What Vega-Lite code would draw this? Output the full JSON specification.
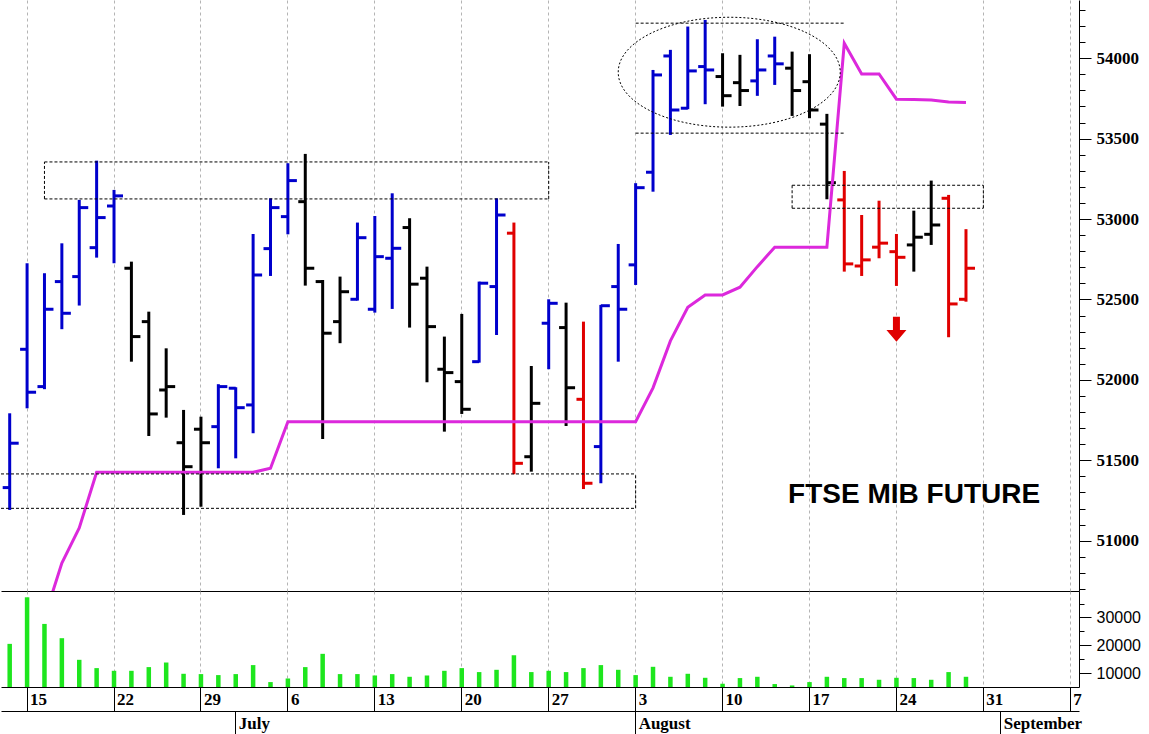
{
  "$schema": "https://vega.github.io/schema/vega-lite/v6.json",
  "background": "white",
  "padding": 0,
  "bounds": "flush",
  "config": {
    "view": {"stroke": null},
    "axis": {"labelOverlap": false, "labelFlush": false}
  },
  "datasets": {
    "ohlc": [
      {"d": "2015-06-12", "o": 51330, "h": 51792, "l": 51191, "c": 51606, "s": "buy", "vol": 20500, "stop": null},
      {"d": "2015-06-15", "o": 52190, "h": 52725, "l": 51823, "c": 51923, "s": "buy", "vol": 37240, "stop": null},
      {"d": "2015-06-16", "o": 51958, "h": 52663, "l": 51942, "c": 52439, "s": "buy", "vol": 27670, "stop": 50520},
      {"d": "2015-06-17", "o": 52611, "h": 52849, "l": 52315, "c": 52414, "s": "buy", "vol": 22540, "stop": 50861},
      {"d": "2015-06-18", "o": 52642, "h": 53119, "l": 52462, "c": 53071, "s": "buy", "vol": 14770, "stop": 51079},
      {"d": "2015-06-19", "o": 52822, "h": 53363, "l": 52760, "c": 53009, "s": "buy", "vol": 11790, "stop": 51425},
      {"d": "2015-06-22", "o": 53081, "h": 53181, "l": 52725, "c": 53144, "s": "buy", "vol": 10820, "stop": 51425},
      {"d": "2015-06-23", "o": 52694, "h": 52735, "l": 52113, "c": 52269, "s": "hold", "vol": 10820, "stop": 51425},
      {"d": "2015-06-24", "o": 52362, "h": 52424, "l": 51651, "c": 51788, "s": "hold", "vol": 12150, "stop": 51425},
      {"d": "2015-06-25", "o": 51937, "h": 52196, "l": 51765, "c": 51958, "s": "hold", "vol": 13800, "stop": 51425},
      {"d": "2015-06-26", "o": 51609, "h": 51813, "l": 51160, "c": 51460, "s": "hold", "vol": 9750, "stop": 51425},
      {"d": "2015-06-29", "o": 51693, "h": 51771, "l": 51211, "c": 51609, "s": "hold", "vol": 9640, "stop": 51425},
      {"d": "2015-06-30", "o": 51709, "h": 51973, "l": 51450, "c": 51958, "s": "buy", "vol": 9280, "stop": 51425},
      {"d": "2015-07-01", "o": 51948, "h": 51954, "l": 51512, "c": 51827, "s": "buy", "vol": 9640, "stop": 51425},
      {"d": "2015-07-02", "o": 51844, "h": 52907, "l": 51668, "c": 52652, "s": "buy", "vol": 12870, "stop": 51425},
      {"d": "2015-07-03", "o": 52816, "h": 53129, "l": 52646, "c": 53071, "s": "buy", "vol": 6770, "stop": 51450},
      {"d": "2015-07-06", "o": 53015, "h": 53347, "l": 52905, "c": 53239, "s": "buy", "vol": 8060, "stop": 51740},
      {"d": "2015-07-07", "o": 53108, "h": 53405, "l": 52586, "c": 52694, "s": "hold", "vol": 12150, "stop": 51740},
      {"d": "2015-07-08", "o": 52611, "h": 52621, "l": 51632, "c": 52290, "s": "hold", "vol": 16920, "stop": 51740},
      {"d": "2015-07-09", "o": 52362, "h": 52642, "l": 52228, "c": 52548, "s": "hold", "vol": 9640, "stop": 51740},
      {"d": "2015-07-10", "o": 52501, "h": 52978, "l": 52493, "c": 52884, "s": "buy", "vol": 9640, "stop": 51740},
      {"d": "2015-07-13", "o": 52439, "h": 53019, "l": 52418, "c": 52766, "s": "buy", "vol": 9140, "stop": 51740},
      {"d": "2015-07-14", "o": 52756, "h": 53160, "l": 52441, "c": 52818, "s": "buy", "vol": 9640, "stop": 51740},
      {"d": "2015-07-15", "o": 52947, "h": 53005, "l": 52325, "c": 52595, "s": "hold", "vol": 8670, "stop": 51740},
      {"d": "2015-07-16", "o": 52632, "h": 52704, "l": 51985, "c": 52331, "s": "hold", "vol": 9140, "stop": 51740},
      {"d": "2015-07-17", "o": 52066, "h": 52269, "l": 51678, "c": 52045, "s": "hold", "vol": 10820, "stop": 51740},
      {"d": "2015-07-20", "o": 51989, "h": 52410, "l": 51788, "c": 51817, "s": "hold", "vol": 11790, "stop": 51740},
      {"d": "2015-07-21", "o": 52113, "h": 52611, "l": 52107, "c": 52601, "s": "buy", "vol": 10360, "stop": 51740},
      {"d": "2015-07-22", "o": 52580, "h": 53129, "l": 52279, "c": 53025, "s": "buy", "vol": 11180, "stop": 51740},
      {"d": "2015-07-23", "o": 52912, "h": 52978, "l": 51413, "c": 51481, "s": "sell", "vol": 16450, "stop": 51740},
      {"d": "2015-07-24", "o": 51522, "h": 52086, "l": 51429, "c": 51854, "s": "hold", "vol": 10360, "stop": 51740},
      {"d": "2015-07-27", "o": 52352, "h": 52501, "l": 52066, "c": 52476, "s": "buy", "vol": 10820, "stop": 51740},
      {"d": "2015-07-28", "o": 52325, "h": 52480, "l": 51713, "c": 51951, "s": "hold", "vol": 10360, "stop": 51740},
      {"d": "2015-07-29", "o": 51879, "h": 52362, "l": 51321, "c": 51357, "s": "sell", "vol": 11790, "stop": 51740},
      {"d": "2015-07-30", "o": 51585, "h": 52466, "l": 51357, "c": 52461, "s": "buy", "vol": 12870, "stop": 51740},
      {"d": "2015-07-31", "o": 52580, "h": 52845, "l": 52113, "c": 52439, "s": "buy", "vol": 11180, "stop": 51740},
      {"d": "2015-08-03", "o": 52715, "h": 53223, "l": 52590, "c": 53195, "s": "buy", "vol": 9280, "stop": 51740},
      {"d": "2015-08-04", "o": 53291, "h": 53927, "l": 53170, "c": 53896, "s": "buy", "vol": 12260, "stop": 51950},
      {"d": "2015-08-05", "o": 54014, "h": 54052, "l": 53523, "c": 53678, "s": "buy", "vol": 8670, "stop": 52242},
      {"d": "2015-08-06", "o": 53689, "h": 54197, "l": 53683, "c": 53921, "s": "buy", "vol": 9750, "stop": 52451},
      {"d": "2015-08-07", "o": 53948, "h": 54238, "l": 53714, "c": 53927, "s": "buy", "vol": 8310, "stop": 52528},
      {"d": "2015-08-10", "o": 53886, "h": 54031, "l": 53699, "c": 53767, "s": "hold", "vol": 6170, "stop": 52528},
      {"d": "2015-08-11", "o": 53848, "h": 54021, "l": 53703, "c": 53799, "s": "hold", "vol": 8210, "stop": 52576},
      {"d": "2015-08-12", "o": 53859, "h": 54118, "l": 53766, "c": 53927, "s": "buy", "vol": 8670, "stop": 52704},
      {"d": "2015-08-13", "o": 54014, "h": 54134, "l": 53834, "c": 53965, "s": "buy", "vol": 6060, "stop": 52825},
      {"d": "2015-08-14", "o": 53938, "h": 54041, "l": 53641, "c": 53799, "s": "hold", "vol": 5560, "stop": 52825},
      {"d": "2015-08-17", "o": 53854, "h": 54025, "l": 53627, "c": 53678, "s": "hold", "vol": 6770, "stop": 52825},
      {"d": "2015-08-18", "o": 53590, "h": 53654, "l": 53123, "c": 53226, "s": "hold", "vol": 8670, "stop": 52825},
      {"d": "2015-08-19", "o": 53119, "h": 53299, "l": 52673, "c": 52721, "s": "sell", "vol": 8210, "stop": 54093},
      {"d": "2015-08-20", "o": 52708, "h": 53025, "l": 52646, "c": 52746, "s": "sell", "vol": 8210, "stop": 53902},
      {"d": "2015-08-21", "o": 52825, "h": 53114, "l": 52756, "c": 52850, "s": "sell", "vol": 7600, "stop": 53902},
      {"d": "2015-08-24", "o": 52797, "h": 52907, "l": 52584, "c": 52762, "s": "sell", "vol": 8310, "stop": 53745},
      {"d": "2015-08-25", "o": 52839, "h": 53052, "l": 52673, "c": 52887, "s": "hold", "vol": 8210, "stop": 53743},
      {"d": "2015-08-26", "o": 52905, "h": 53239, "l": 52839, "c": 52963, "s": "hold", "vol": 7600, "stop": 53740},
      {"d": "2015-08-27", "o": 53129, "h": 53150, "l": 52265, "c": 52472, "s": "sell", "vol": 10360, "stop": 53728},
      {"d": "2015-08-28", "o": 52501, "h": 52937, "l": 52486, "c": 52694, "s": "sell", "vol": 8670, "stop": 53724}
    ],
    "hlines": [
      {"d": "2015-06-16", "d2": "2015-07-27", "v": 53355},
      {"d": "2015-06-16", "d2": "2015-07-27", "v": 53125},
      {"d": "2015-08-14", "d2": "2015-08-31", "v": 53210},
      {"d": "2015-08-14", "d2": "2015-08-31", "v": 53067},
      {"d": "2015-08-03", "d2": "2015-08-19", "v": 54218},
      {"d": "2015-08-03", "d2": "2015-08-19", "v": 53534}
    ],
    "edgelines": [
      {"d": "2015-06-12", "d2": "2015-08-03", "v": 51415},
      {"d": "2015-06-12", "d2": "2015-08-03", "v": 51201}
    ],
    "vlines": [
      {"d": "2015-06-16", "v": 53125, "v2": 53355},
      {"d": "2015-07-27", "v": 53125, "v2": 53355},
      {"d": "2015-08-14", "v": 53067, "v2": 53210},
      {"d": "2015-08-31", "v": 53067, "v2": 53210},
      {"d": "2015-08-03", "v": 51201, "v2": 51415}
    ],
    "notes": [
      {"d": "2015-08-10", "v": 53913, "kind": "ellipse"},
      {"d": "2015-08-24", "v": 52315, "kind": "arrow"},
      {"d": "2015-08-14", "v": 51233, "kind": "label", "text": "FTSE MIB FUTURE"}
    ]
  },
  "spacing": 0,
  "resolve": {"scale": {"x": "independent", "y": "independent"}},
  "vconcat": [
    {
      "width": 1078,
      "height": 591,
      "data": {"name": "ohlc"},
      "resolve": {"axis": {"y": "independent"}},
      "encoding": {
        "x": {
          "field": "d",
          "type": "ordinal",
          "title": null,
          "scale": {
            "type": "band",
            "paddingInner": 0,
            "paddingOuter": 0,
            "domain": ["2015-06-12","2015-06-15","2015-06-16","2015-06-17","2015-06-18","2015-06-19","2015-06-22","2015-06-23","2015-06-24","2015-06-25","2015-06-26","2015-06-29","2015-06-30","2015-07-01","2015-07-02","2015-07-03","2015-07-06","2015-07-07","2015-07-08","2015-07-09","2015-07-10","2015-07-13","2015-07-14","2015-07-15","2015-07-16","2015-07-17","2015-07-20","2015-07-21","2015-07-22","2015-07-23","2015-07-24","2015-07-27","2015-07-28","2015-07-29","2015-07-30","2015-07-31","2015-08-03","2015-08-04","2015-08-05","2015-08-06","2015-08-07","2015-08-10","2015-08-11","2015-08-12","2015-08-13","2015-08-14","2015-08-17","2015-08-18","2015-08-19","2015-08-20","2015-08-21","2015-08-24","2015-08-25","2015-08-26","2015-08-27","2015-08-28","2015-08-31","2015-09-01","2015-09-02","2015-09-03","2015-09-04","2015-09-07"]
          },
          "axis": {
            "orient": "bottom",
            "values": ["2015-06-15","2015-06-22","2015-06-29","2015-07-06","2015-07-13","2015-07-20","2015-07-27","2015-08-03","2015-08-10","2015-08-17","2015-08-24","2015-08-31","2015-09-07"],
            "labels": false,
            "ticks": false,
            "domain": true,
            "domainColor": "#000000",
            "grid": true,
            "gridDash": [3, 3],
            "gridColor": "#b4b4b4"
          }
        }
      },
      "layer": [
        {
          "mark": {"type": "rule", "strokeWidth": 3},
          "encoding": {
            "y": {
              "field": "l",
              "type": "quantitative",
              "title": null,
              "scale": {"domain": [50687, 54362], "nice": false, "zero": false},
              "axis": {
                "orient": "right",
                "values": [51000, 51500, 52000, 52500, 53000, 53500, 54000],
                "format": "d",
                "labelOverlap": false,
                "tickSize": 12,
                "tickColor": "#000000",
                "domainColor": "#000000",
                "grid": false,
                "labelFont": "Liberation Serif",
                "labelFontWeight": "bold",
                "labelFontSize": 17,
                "labelColor": "#000000",
                "labelPadding": 5
              }
            },
            "y2": {"field": "h"},
            "color": {
              "field": "s",
              "type": "nominal",
              "scale": {"domain": ["buy", "hold", "sell"], "range": ["#0000CC", "#000000", "#E00000"]},
              "legend": null
            }
          }
        },
        {
          "mark": {"type": "rule", "strokeWidth": 3, "xOffset": -7, "x2Offset": 0},
          "encoding": {
            "x2": {"field": "d"},
            "y": {
              "field": "o",
              "type": "quantitative",
              "title": null,
              "axis": {
                "orient": "right",
                "values": [50700,50800,50900,51100,51200,51300,51400,51600,51700,51800,51900,52100,52200,52300,52400,52600,52700,52800,52900,53100,53200,53300,53400,53600,53700,53800,53900,54100,54200,54300],
                "labels": false,
                "domain": false,
                "tickSize": 6,
                "tickColor": "#000000",
                "grid": false
              }
            },
            "color": {"field": "s", "type": "nominal", "legend": null}
          }
        },
        {
          "mark": {"type": "rule", "strokeWidth": 3, "xOffset": 0, "x2Offset": 9},
          "encoding": {
            "x2": {"field": "d"},
            "y": {"field": "c", "type": "quantitative", "axis": null},
            "color": {"field": "s", "type": "nominal", "legend": null}
          }
        },
        {
          "mark": {"type": "line", "color": "#DC28DC", "strokeWidth": 3, "clip": true},
          "encoding": {
            "y": {"field": "stop", "type": "quantitative", "axis": null}
          }
        },
        {
          "data": {"name": "hlines"},
          "mark": {"type": "rule", "color": "#000000", "strokeWidth": 1, "strokeDash": [3, 2]},
          "encoding": {
            "x2": {"field": "d2"},
            "y": {"field": "v", "type": "quantitative", "axis": null}
          }
        },
        {
          "data": {"name": "edgelines"},
          "mark": {"type": "rule", "color": "#000000", "strokeWidth": 1, "strokeDash": [3, 2]},
          "encoding": {
            "x": {"field": "d", "type": "ordinal", "bandPosition": 0, "title": null},
            "x2": {"field": "d2"},
            "y": {"field": "v", "type": "quantitative", "axis": null}
          }
        },
        {
          "data": {"name": "vlines"},
          "mark": {"type": "rule", "color": "#000000", "strokeWidth": 1, "strokeDash": [3, 2]},
          "encoding": {
            "y": {"field": "v", "type": "quantitative", "axis": null},
            "y2": {"field": "v2"}
          }
        },
        {
          "data": {"name": "notes"},
          "transform": [{"filter": "datum.kind == 'ellipse'"}],
          "mark": {
            "type": "point",
            "shape": "M -0.94 0 A 1 0.495 0 0 1 1.06 0 A 1 0.495 0 0 1 -0.94 0 Z",
            "size": 49284,
            "filled": false,
            "color": "#000000",
            "strokeWidth": 1,
            "strokeDash": [2, 2],
            "opacity": 1
          },
          "encoding": {
            "y": {"field": "v", "type": "quantitative", "axis": null}
          }
        },
        {
          "data": {"name": "notes"},
          "transform": [{"filter": "datum.kind == 'arrow'"}],
          "mark": {
            "type": "point",
            "shape": "M -0.28 -1 L 0.28 -1 L 0.28 0.06 L 0.8 0.06 L 0 1 L -0.8 0.06 L -0.28 0.06 Z",
            "size": 625,
            "filled": true,
            "color": "#E00000",
            "strokeWidth": 0,
            "opacity": 1
          },
          "encoding": {
            "y": {"field": "v", "type": "quantitative", "axis": null}
          }
        },
        {
          "data": {"name": "notes"},
          "transform": [{"filter": "datum.kind == 'label'"}],
          "mark": {
            "type": "text",
            "align": "left",
            "baseline": "alphabetic",
            "dx": -4,
            "font": "Liberation Sans",
            "fontWeight": "bold",
            "fontSize": 28,
            "color": "#000000"
          },
          "encoding": {
            "y": {"field": "v", "type": "quantitative", "axis": null},
            "text": {"field": "text"}
          }
        }
      ]
    },
    {
      "width": 1078,
      "height": 96,
      "data": {"name": "ohlc"},
      "resolve": {"axis": {"x": "independent"}},
      "layer": [
        {
          "mark": {"type": "bar", "width": 4.5, "color": "#1EE61E"},
          "encoding": {
            "x": {
              "field": "d",
              "type": "ordinal",
              "title": null,
              "scale": {
                "type": "band",
                "paddingInner": 0,
                "paddingOuter": 0,
                "domain": ["2015-06-12","2015-06-15","2015-06-16","2015-06-17","2015-06-18","2015-06-19","2015-06-22","2015-06-23","2015-06-24","2015-06-25","2015-06-26","2015-06-29","2015-06-30","2015-07-01","2015-07-02","2015-07-03","2015-07-06","2015-07-07","2015-07-08","2015-07-09","2015-07-10","2015-07-13","2015-07-14","2015-07-15","2015-07-16","2015-07-17","2015-07-20","2015-07-21","2015-07-22","2015-07-23","2015-07-24","2015-07-27","2015-07-28","2015-07-29","2015-07-30","2015-07-31","2015-08-03","2015-08-04","2015-08-05","2015-08-06","2015-08-07","2015-08-10","2015-08-11","2015-08-12","2015-08-13","2015-08-14","2015-08-17","2015-08-18","2015-08-19","2015-08-20","2015-08-21","2015-08-24","2015-08-25","2015-08-26","2015-08-27","2015-08-28","2015-08-31","2015-09-01","2015-09-02","2015-09-03","2015-09-04","2015-09-07"]
              },
              "axis": {
                "orient": "bottom",
                "values": ["2015-06-15","2015-06-22","2015-06-29","2015-07-06","2015-07-13","2015-07-20","2015-07-27","2015-08-03","2015-08-10","2015-08-17","2015-08-24","2015-08-31","2015-09-07"],
                "labelExpr": "toNumber(substring(datum.value, 8, 10))",
                "labelOverlap": false,
                "domain": true,
                "domainColor": "#000000",
                "ticks": true,
                "tickSize": 24,
                "tickColor": "#000000",
                "tickWidth": 1,
                "labelAngle": 0,
                "labelAlign": "left",
                "labelBaseline": "middle",
                "labelOffset": 3,
                "labelPadding": -12,
                "labelFont": "Liberation Serif",
                "labelFontWeight": "bold",
                "labelFontSize": 17,
                "labelColor": "#000000",
                "grid": true,
                "gridDash": [3, 3],
                "gridColor": "#b4b4b4"
              }
            },
            "y": {
              "field": "vol",
              "type": "quantitative",
              "title": null,
              "scale": {"domain": [5000, 39500], "nice": false, "zero": false},
              "axis": {
                "orient": "right",
                "values": [10000, 15000, 20000, 25000, 30000, 35000],
                "format": "d",
                "labelExpr": "datum.value % 10000 == 0 ? datum.label : ''",
                "labelOverlap": false,
                "tickSize": {"condition": {"test": "datum.value % 10000 == 0", "value": 12}, "value": 5},
                "tickColor": "#000000",
                "domainColor": "#000000",
                "grid": false,
                "labelFont": "Liberation Sans",
                "labelFontSize": 16,
                "labelColor": "#000000",
                "labelPadding": 5
              }
            },
            "y2": {"datum": 5000}
          }
        },
        {
          "mark": {"type": "rule", "opacity": 0},
          "encoding": {
            "x": {
              "field": "d",
              "type": "ordinal",
              "title": null,
              "axis": {
                "orient": "bottom",
                "offset": 24,
                "values": ["2015-07-01", "2015-08-03", "2015-09-01"],
                "labelExpr": "substring(datum.value, 5, 7) == '07' ? 'July' : substring(datum.value, 5, 7) == '08' ? 'August' : 'September'",
                "labelOverlap": false,
                "domain": true,
                "domainColor": "#000000",
                "ticks": true,
                "tickSize": 23,
                "tickColor": "#000000",
                "tickWidth": 1,
                "labelAngle": 0,
                "labelAlign": "left",
                "labelBaseline": "middle",
                "labelOffset": 3,
                "labelPadding": -11,
                "labelFont": "Liberation Serif",
                "labelFontWeight": "bold",
                "labelFontSize": 17,
                "labelColor": "#000000",
                "grid": false
              }
            }
          }
        }
      ]
    }
  ]
}
